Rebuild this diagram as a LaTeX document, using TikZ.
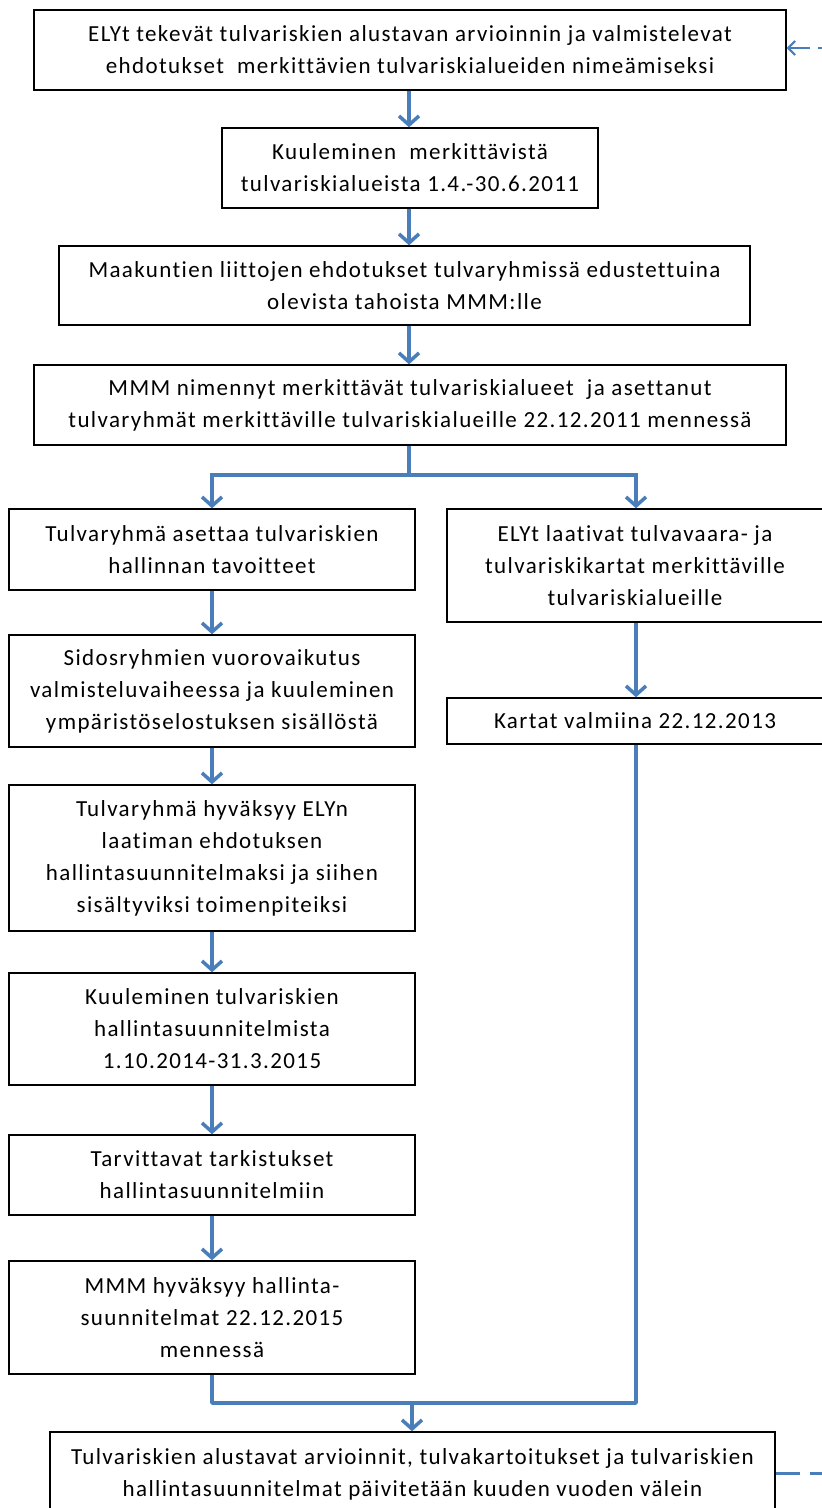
\documentclass[tikz,border=0pt]{standalone}
\usepackage{fontspec}
\setmainfont{Carlito}[LetterSpace=6,Ligatures={NoCommon}]
\usetikzlibrary{arrows.meta,calc}
\definecolor{flowblue}{RGB}{74,126,187}
\begin{document}
\begin{tikzpicture}[x=1pt,y=-1pt,
  box/.style={draw=black,line width=1.4pt,fill=white,inner sep=0pt,align=center,
    font=\fontsize{23}{32}\selectfont},
  arr/.style={draw=flowblue,line width=3.5pt,-{Straight Barb[length=9pt,width=20pt,line width=3.5pt]}},
  link/.style={draw=flowblue,line width=3.5pt,line join=round},
  fb/.style={draw=flowblue,line width=2pt,dash pattern=on 24pt off 10pt}]
\useasboundingbox (0,0) rectangle (822,1508);
\clip (0,0) rectangle (822,1508);
\node[box,minimum width=752pt,minimum height=80pt] (b1) at (410,50)
  {ELYt tekevät tulvariskien alustavan arvioinnin ja valmistelevat\\ehdotukset\ \ merkittävien tulvariskialueiden nimeämiseksi};
\node[box,minimum width=376pt,minimum height=80pt] (b2) at (410,168)
  {Kuuleminen\ \ merkittävistä\\tulvariskialueista 1.4.-30.6.2011};
\node[box,minimum width=691pt,minimum height=79pt] (b3) at (404.5,285.5)
  {Maakuntien liittojen ehdotukset tulvaryhmissä edustettuina\\olevista tahoista MMM:lle};
\node[box,minimum width=752pt,minimum height=80pt] (b4) at (410,405)
  {MMM nimennyt merkittävät tulvariskialueet\ \ ja asettanut\\tulvaryhmät merkittäville tulvariskialueille 22.12.2011 mennessä};
% left column
\node[box,minimum width=406pt,minimum height=81pt] (l1) at (212,549.5)
  {Tulvaryhmä asettaa tulvariskien\\hallinnan tavoitteet};
\node[box,minimum width=406pt,minimum height=112pt] (l2) at (212,691)
  {Sidosryhmien vuorovaikutus\\valmisteluvaiheessa ja kuuleminen\\ympäristöselostuksen sisällöstä};
\node[box,minimum width=406pt,minimum height=146pt] (l3) at (212,858)
  {Tulvaryhmä hyväksyy ELYn\\laatiman ehdotuksen\\hallintasuunnitelmaksi ja siihen\\sisältyviksi toimenpiteiksi};
\node[box,minimum width=406pt,minimum height=112pt] (l4) at (212,1029)
  {Kuuleminen tulvariskien\\hallintasuunnitelmista\\1.10.2014-31.3.2015};
\node[box,minimum width=406pt,minimum height=80pt] (l5) at (212,1175)
  {Tarvittavat tarkistukset\\hallintasuunnitelmiin};
\node[box,minimum width=406pt,minimum height=113pt] (l6) at (212,1317.5)
  {MMM hyväksyy hallinta-\\suunnitelmat 22.12.2015\\mennessä};
% right column
\node[box,minimum width=376pt,minimum height=113pt] (r1) at (635,565.5)
  {ELYt laativat tulvavaara- ja\\tulvariskikartat merkittäville\\tulvariskialueille};
\node[box,minimum width=376pt,minimum height=46pt] (r2) at (635,721)
  {Kartat valmiina 22.12.2013};
% bottom
\node[box,minimum width=725pt,minimum height=84pt] (bb) at (412.5,1474)
  {Tulvariskien alustavat arvioinnit, tulvakartoitukset ja tulvariskien\\hallintasuunnitelmat päivitetään kuuden vuoden välein};
% connectors
\draw[arr] (b1.south -| 409,0) -- (b2.north -| 409,0);
\draw[arr] (b2.south -| 409,0) -- (b3.north -| 409,0);
\draw[arr] (b3.south -| 409,0) -- (b4.north -| 409,0);
\coordinate (split) at (409,475);
\draw[link] (b4.south -| split) -- (split);
\draw[arr] (split) -| (l1.north);
\draw[arr] (split) -| (r1.north -| 636,0);
\draw[arr] (l1.south) -- (l2.north);
\draw[arr] (l2.south) -- (l3.north);
\draw[arr] (l3.south) -- (l4.north);
\draw[arr] (l4.south) -- (l5.north);
\draw[arr] (l5.south) -- (l6.north);
\draw[arr] (r1.south -| 636,0) -- (r2.north -| 636,0);
\coordinate (merge) at (412,1403);
\draw[link] (l6.south) |- (merge);
\draw[link] (r2.south -| 636,0) |- (merge);
\draw[arr] (merge) -- (bb.north -| merge);
% feedback dashed
\coordinate (fbtop) at (822,48);
\coordinate (fbbot) at (830,1473);
\draw[fb,dash pattern=on 24pt off 8pt,dash phase=20pt,-{Straight Barb[length=7pt,width=14pt,line width=2pt]}] (fbtop) -- (b1.east |- fbtop);
\draw[fb,line width=3pt] (bb.east |- fbbot) -- (fbbot);
\end{tikzpicture}
\end{document}
